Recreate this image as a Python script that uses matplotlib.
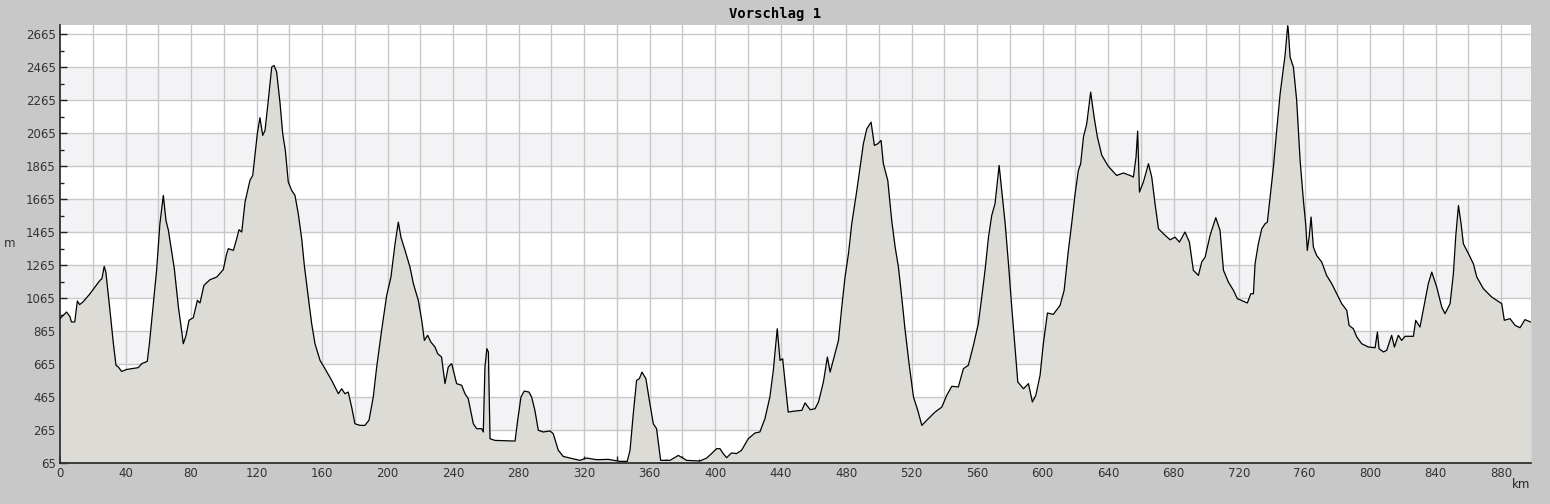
import numpy as np
import matplotlib.pyplot as plt
from matplotlib.ticker import MultipleLocator, FixedLocator

# elevation profile (km, m)
km = [0, 4, 6, 7, 9, 10.6, 12, 14, 18, 24.4, 25.6, 27, 28, 30.5, 32.6, 34.2, 35.6, 37.7,
      40.7, 47.8, 49.9, 53.3, 54.6, 57, 59, 61, 63.1, 64.7, 66.2, 69.8, 72.3, 73.7, 75.3,
      77, 78.8, 81.4, 83.9, 85.5, 87.9, 91.6, 95.7, 99.7, 101.8, 102.8, 105.9, 107.9,
      109.3, 111, 113, 116, 117.7, 120.5, 122.1, 123.8, 125.2, 127.2, 129.3, 130.7, 132.3,
      134.4, 136, 137.6, 139.4, 141.5, 143.5, 145.5, 147.6, 149.2,
      151.6, 153.7, 155.7, 158.8, 161.8, 165.9, 170, 172, 174, 176, 178.1, 180.1, 183.2,
      186.2, 188.7, 191.3, 193.4, 196.4, 199.5, 202.1, 204.6, 206.6, 208.2, 210.7, 213.7,
      215.8, 218.8, 220.9, 222.5, 224.5, 226.5, 229, 230.6, 233, 235.1, 237.1, 239.2,
      242.2, 245.3, 247.3, 249.3, 252.4, 254.4, 257.5, 258.5, 259.5, 260.7, 261.6, 262.6,
      265.6, 277.9, 279.5, 281.5, 283.5, 286.4, 288, 290, 292.1, 295.2, 299.2,
      301.2, 304.3, 307.3, 311.4, 317.5, 321.6, 327.7, 334.8, 341.9, 346.4, 348.1, 350.1,
      352.1, 353.8, 355.4, 357.8, 359.9, 362.3, 364.3, 366.8, 372.5, 377.6, 382.7, 390.8,
      394.9, 397.9, 401, 403, 405, 407.1, 410.1, 413.2, 416.2, 420.3, 424.4, 427.4, 430.5,
      433.5, 435.6, 438, 439.7, 441.3, 442.7, 444.7, 448.8,
      453, 455, 458.1, 461.1, 463.2, 466.2, 468.6, 470.3, 473.3, 475.4, 477.4, 479.4,
      481.5, 483.5, 486.6, 488.6, 490.6, 492.7, 495.3, 497.3, 499.4, 501.4, 502.8, 505.5,
      507.9, 510, 512, 514, 516.1, 518.5, 521.2, 523.8, 526.3, 530.3, 534.4, 538.5, 541.5,
      544.6, 548.6, 551.7, 554.7, 557.8, 560.8, 562.9, 564.9, 567, 569, 571, 573.5, 575.1,
      577.2, 579.2, 581.2, 583.3, 584.9, 588.4, 591.4, 593.8, 595.9, 598.5,
      600.5, 603, 606.6, 610.7, 613.2, 615.8, 617.8, 619.9, 621.9, 623.3, 625, 627, 629.4,
      631.5, 633.5, 636.2, 640.2, 643.3, 645.3, 649.4, 653.5, 655.5, 657.1, 658.1, 659.2,
      661.6, 664.7, 666.7, 668.7, 670.8, 673.8, 677.9, 680.9, 683.6, 687, 689.7, 692.1,
      695.2, 697.2, 699.3, 702.3, 705.8, 708.4, 710.5, 713.5, 716.6, 719, 722.3, 725.1,
      727.2, 728.8, 729.8, 731.8, 733.9, 735.9, 737.3, 739, 741, 743, 745.1, 748.1,
      749.1, 749.7, 750.1, 751.2, 753.2, 755.2, 757.3, 759.3, 760.7, 761.7, 762.8, 764,
      765.4, 767.4, 770.5, 773.5, 776.6, 779.7, 782.7, 785.8, 787.2, 789.8, 791.9, 794.9,
      799, 803.1, 804.5, 805.5, 808.2, 810.2, 813.2, 814.9, 817.3, 819.3, 821.4, 826.5,
      827.9, 830.5, 833.6, 835.6, 837.7, 840.7, 843.8, 845.8, 848.9, 850.9, 852.3, 854,
      855.6, 857, 860.1, 863.1, 865.2, 869.2, 874.3, 880.4, 882, 885.5, 888.6, 891.6,
      894.6, 898.3]
elev = [940, 980, 954, 920, 920, 1047, 1025, 1041, 1087, 1172, 1182, 1257, 1222, 990, 788,
        657, 647, 620, 632, 643, 667, 681, 788, 1031, 1233, 1515, 1687, 1536, 1475, 1243,
        1010, 909, 788, 839, 930, 946, 1051, 1035, 1142, 1176, 1192, 1237, 1334, 1364,
        1354, 1424, 1479, 1465, 1647, 1778, 1808, 2061, 2158, 2051, 2081, 2263, 2465, 2475,
        2435, 2243, 2061, 1960, 1768, 1717, 1687, 1576, 1424, 1263,
        1071, 909, 788, 687, 637, 566, 485, 515, 485, 495, 404, 303, 293, 293, 324, 465, 647,
        869, 1081, 1192, 1394, 1525, 1434, 1354, 1253, 1152, 1051, 930, 808, 839, 798, 768,
        728, 707, 546, 647, 667, 546, 536, 485, 455, 303, 273, 273, 253, 647, 758, 738, 212,
        202, 198, 324, 465, 501, 495, 465, 384, 263, 253, 259,
        243, 142, 105, 95, 81, 95, 85, 87, 75, 75, 142, 364, 566, 576, 616, 576, 445, 303,
        273, 81, 81, 111, 81, 77, 95, 122, 152, 152, 122, 97, 126, 122, 142, 212, 247, 253,
        334, 465, 626, 879, 687, 697, 566, 374, 380,
        384, 429, 388, 394, 435, 556, 707, 616, 728, 808, 1010, 1192, 1334, 1515, 1717,
        1859, 2000, 2091, 2131, 1990, 2000, 2020, 1879, 1778, 1535, 1374, 1253, 1071, 869,
        667, 465, 384, 293, 334, 374, 404, 475, 530, 526, 637, 657, 778, 909, 1071, 1233,
        1434, 1566, 1637, 1869, 1717, 1515, 1273, 1010, 748, 556, 515, 546, 435, 475, 596,
        788, 974, 966, 1020, 1111, 1354, 1515, 1697, 1839, 1879, 2041, 2121, 2313, 2162,
        2041, 1930, 1863, 1829, 1808, 1823, 1808, 1798, 1919, 2077, 1707, 1768, 1879, 1798,
        1637, 1485, 1455, 1418, 1434, 1404, 1465, 1404, 1233, 1202, 1283, 1313, 1444, 1552,
        1475, 1233, 1162, 1111, 1061, 1047, 1035, 1091, 1091, 1273, 1394, 1485, 1515, 1525,
        1677, 1859, 2081, 2303, 2535,
        2647, 2715, 2687, 2525, 2465, 2263, 1899, 1657, 1515, 1354, 1434, 1556, 1374, 1323,
        1283, 1202, 1152, 1091, 1031, 990, 899, 879, 829, 788, 768, 764, 859, 758, 738, 748,
        839, 768, 839, 808, 833, 833, 930, 889, 1051, 1152, 1222, 1132, 1010, 970, 1031,
        1212, 1434, 1626, 1515, 1394, 1334, 1273, 1192, 1122, 1071, 1031, 930, 940, 899,
        885, 934, 919]

yticks = np.arange(65, 2666, 200)
xgrid = np.arange(0, 898, 20)

fig = plt.figure(figsize=(15.5, 5.04), dpi=100, facecolor='#c8c8c8')
ax = fig.add_axes([60/1550, 41/504, 1471/1550, 438/504])
ax.set_facecolor('white')

# alternating bands between the horizontal gridlines
for lo in yticks[1:-1:2]:
    ax.axhspan(lo, lo + 200, color='#f3f2f5', lw=0, zorder=0)

ax.fill_between(km, elev, 65, color='#dcdbd6', lw=0, zorder=2)
ax.plot(km, elev, color='black', lw=0.9, zorder=3)

ax.set_xlim(0, 898.3)
ax.set_ylim(65, 2720)

# grid on every 20 km and every 200 m
for x in xgrid[1:]:
    ax.axvline(x, color='#c8c8c8', lw=1, zorder=1)
for y in yticks[1:]:
    ax.axhline(y, color='#c8c8c8', lw=1, zorder=1)

# ticks: major every 20 km (labels every 40), minor every 10 km
ax.set_xticks(xgrid)
ax.set_xticklabels([str(v) if v % 40 == 0 else '' for v in xgrid])
ax.xaxis.set_minor_locator(MultipleLocator(10))
ax.set_yticks(yticks)
ax.yaxis.set_minor_locator(FixedLocator(yticks[:-1] + 100))

ax.tick_params(which='major', direction='in', length=5, width=1, color='#222222',
               labelsize=8.5, labelcolor='#333333', pad=3)
ax.tick_params(which='minor', direction='in', length=3, width=1, color='#222222')
for s in ['top', 'right']:
    ax.spines[s].set_visible(False)
for s in ['left', 'bottom']:
    ax.spines[s].set_color('#222222')
    ax.spines[s].set_linewidth(1.2)

fig.text(10/1550, 1 - 243/504, 'm', fontsize=8.5, color='#333333', ha='center', va='center')
fig.text(1521/1550, 1 - 484/504, 'km', fontsize=8.5, color='#222222', ha='center', va='center')
fig.text(775/1550, 1 - 14/504, 'Vorschlag 1', fontsize=10, family='DejaVu Sans Mono',
         weight='bold', ha='center', va='center')

fig.savefig('out.png', dpi=100, facecolor=fig.get_facecolor())
